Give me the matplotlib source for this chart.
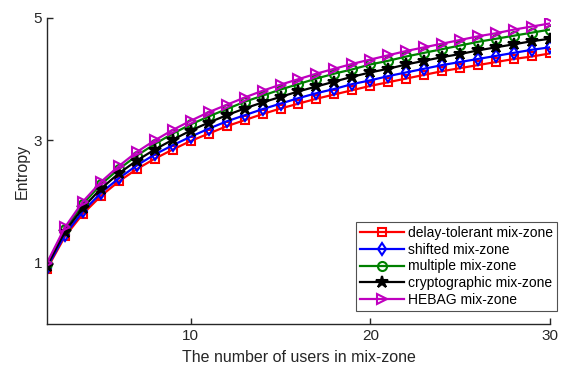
import matplotlib
matplotlib.use("Agg")
import matplotlib.pyplot as plt

plt.rcParams['font.family'] = ['Liberation Sans', 'DejaVu Sans']

users = list(range(2, 31))

delay_tolerant = [0.90, 1.43, 1.80, 2.09, 2.33, 2.53, 2.70, 2.85, 2.99, 3.11, 3.23, 3.33, 3.43, 3.52,
                  3.60, 3.68, 3.75, 3.82, 3.89, 3.95, 4.01, 4.07, 4.13, 4.18, 4.23, 4.28, 4.33, 4.37, 4.42]
shifted = [0.92, 1.46, 1.84, 2.14, 2.38, 2.59, 2.77, 2.92, 3.06, 3.19, 3.31, 3.41, 3.51, 3.60,
           3.69, 3.77, 3.84, 3.92, 3.98, 4.05, 4.11, 4.17, 4.23, 4.28, 4.33, 4.38, 4.43, 4.48, 4.52]
multiple = [0.98, 1.55, 1.96, 2.28, 2.53, 2.75, 2.94, 3.11, 3.26, 3.39, 3.51, 3.63, 3.73, 3.83,
            3.92, 4.01, 4.09, 4.16, 4.24, 4.30, 4.37, 4.43, 4.49, 4.55, 4.61, 4.66, 4.71, 4.76, 4.81]
cryptographic = [0.95, 1.51, 1.90, 2.21, 2.46, 2.67, 2.85, 3.01, 3.16, 3.29, 3.41, 3.52, 3.62, 3.71,
                 3.80, 3.88, 3.96, 4.04, 4.11, 4.17, 4.24, 4.30, 4.36, 4.41, 4.47, 4.52, 4.57, 4.62, 4.66]
hebag = [1.00, 1.58, 2.00, 2.32, 2.58, 2.81, 3.00, 3.17, 3.32, 3.46, 3.58, 3.70, 3.81, 3.91,
         4.00, 4.09, 4.17, 4.25, 4.32, 4.39, 4.46, 4.52, 4.58, 4.64, 4.70, 4.75, 4.81, 4.86, 4.91]

labels = ["delay-tolerant mix-zone", "shifted mix-zone", "multiple mix-zone",
          "cryptographic mix-zone", "HEBAG mix-zone"]
x_ticks = [10, 20, 30]
y_ticks = [1, 3, 5]

fig = plt.figure(figsize=(5.64, 3.66), dpi=100)
ax = fig.add_axes([0.0833, 0.1148, 0.8918, 0.8362])

styles = [
    (delay_tolerant, "#FF0000", "s", "none", 6),
    (shifted, "#0000FF", "d", "none", 6.5),
    (multiple, "#008000", "o", "none", 6.5),
    (cryptographic, "#000000", "*", "#000000", 9),
    (hebag, "#BF00BF", ">", "none", 7.5),
]
for (vals, color, marker, face, ms), lab in zip(styles, labels):
    ax.plot(users, vals, color=color, marker=marker, markerfacecolor=face,
            markeredgecolor=color, markersize=ms, linewidth=1.6,
            markeredgewidth=1.5, label=lab)

ax.set_xlim(2, 30)
ax.set_ylim(0, 5)
ax.set_xticks(x_ticks)
ax.set_yticks(y_ticks)
ax.tick_params(direction='in', length=4, width=1, labelsize=11, colors='#262626')
for side in ("top", "right"):
    ax.spines[side].set_visible(False)
for side in ("left", "bottom"):
    ax.spines[side].set_color('#262626')
    ax.spines[side].set_linewidth(1)

ax.set_xlabel("The number of users in mix-zone", fontsize=11.5, color='#262626', labelpad=5)
ax.set_ylabel("Entropy", fontsize=11.5, color='#262626', labelpad=3)

leg = ax.legend(loc='lower right', bbox_to_anchor=(1.014, 0.042), fontsize=10,
                frameon=True, fancybox=False, borderpad=0.3, labelspacing=0.2,
                handlelength=3.2, handletextpad=0.25, borderaxespad=0)
leg.get_frame().set_edgecolor('#262626')
leg.get_frame().set_linewidth(0.8)

fig.savefig("out.png", dpi=100)
